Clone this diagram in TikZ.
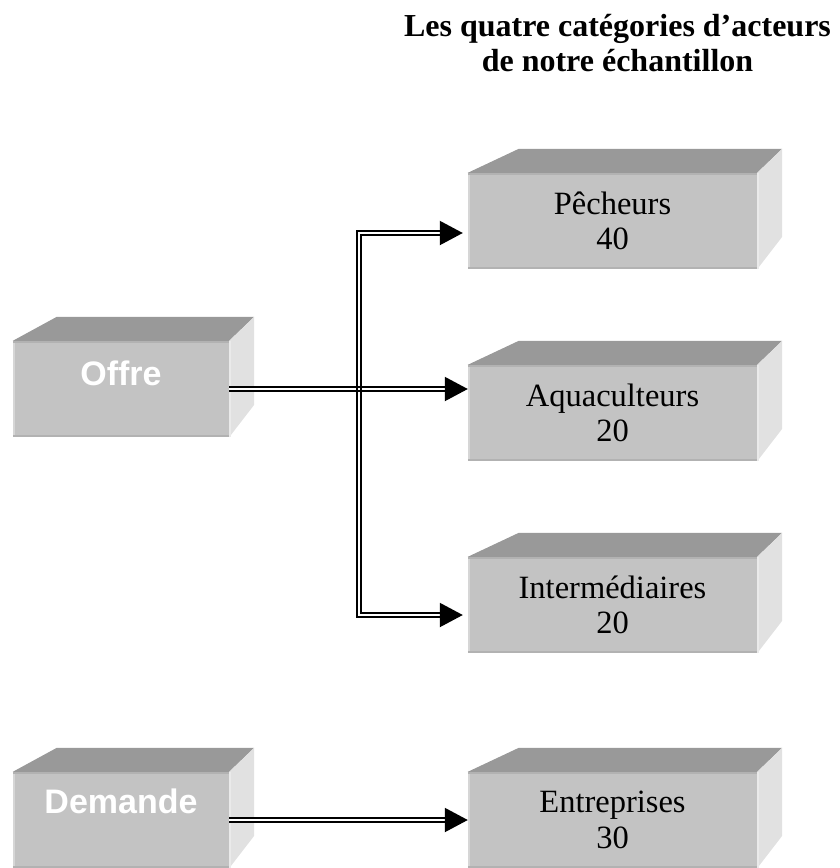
\documentclass[tikz,border=0pt]{standalone}
\usepackage{fontspec}
\setmainfont{Liberation Serif}
\setsansfont{Liberation Sans}
\usetikzlibrary{arrows.meta,calc}
\definecolor{frontc}{HTML}{C3C3C3}
\definecolor{topc}{HTML}{999999}
\definecolor{sidec}{HTML}{E1E1E1}
\definecolor{edgedark}{HTML}{B2B2B2}
\definecolor{edgelight}{HTML}{D6D6D6}
\definecolor{sidelight}{HTML}{EAEAEA}
\tikzset{
  frontface/.style={fill=frontc, inner sep=0pt, minimum height=96pt, align=center,
    font=\fontsize{32.5}{35.5}\selectfont},
  bigface/.style={frontface, minimum width=289pt},
  smallface/.style={frontface, minimum width=216pt},
  whitelabel/.style={anchor=base, text=white, inner sep=0pt,
    font=\sffamily\bfseries\fontsize{34}{38}\selectfont},
  dbl/.style={double=white, double distance=2.4pt, line width=2pt, line cap=butt},
  tipped/.style={-{Triangle[length=23pt,width=24pt]}},
  titlefont/.style={font=\bfseries\fontsize{32}{35}\selectfont, align=center},
}
\newcommand\cubefaces[2]{%
  \fill[topc] (#1.north west) -- ++(#2,-24) -- ($(#1.north east)+(25,-24)$) -- (#1.north east) -- cycle;
  \fill[sidec] (#1.north east) -- ++(25,-24) -- ++(0,88) -- (#1.south east) -- cycle;
  \draw[sidelight, line width=2pt] ([xshift=1pt]#1.north east) -- ([xshift=1pt]#1.south east);
  \draw[edgedark, line width=2.5pt] ([yshift=-1.25pt]#1.north west) -- ([yshift=-1.25pt]#1.north east);
  \draw[edgedark, line width=2pt] ([yshift=1pt]#1.south west) -- ([yshift=1pt]#1.south east);
  \draw[edgelight, line width=2pt] ([xshift=1pt,yshift=-2.5pt]#1.north west) -- ([xshift=1pt,yshift=2pt]#1.south west);
}
\begin{document}
\begin{tikzpicture}[x=1pt,y=-1pt]
\useasboundingbox (0,0) rectangle (839,868);

\node[titlefont] (title) at (617.5,43) {Les quatre catégories d’acteurs\\de notre échantillon};

% left boxes
\node[smallface] (of) at (121,389) {};
\cubefaces{of}{44}
\node[whitelabel] (oft) at (121,385) {Offre};
\node[smallface] (dm) at (121,820) {};
\cubefaces{dm}{44}
\node[whitelabel] (dmt) at (121,813) {Demande};

% right boxes
\node[bigface] (pe) at (612.5,221) {Pêcheurs\\40};
\cubefaces{pe}{51}
\node[bigface] (aq) at (612.5,413) {Aquaculteurs\\20};
\cubefaces{aq}{51}
\node[bigface] (in) at (612.5,605) {Intermédiaires\\20};
\cubefaces{in}{51}
\node[bigface] (en) at (612.5,820) {Entreprises\\30};
\cubefaces{en}{51}

% branch connector
\coordinate (jx) at (359,0);
\coordinate (bp) at ([yshift=-12pt]pe.west);
\coordinate (bi) at ([yshift=-10pt]in.west);
\draw[dbl, {Triangle[length=23pt,width=24pt]}-{Triangle[length=23pt,width=24pt]}, shorten <=5pt, shorten >=5pt]
  (bp) -- (bp -| jx) -- (bi -| jx) -- (bi);

% Offre -> Aquaculteurs
\draw[dbl, tipped] (of.east) -- (of.east -| aq.west);
% crossing: vertical lines visible through the horizontal gap
\draw[line width=2pt] ([xshift=-2.2pt,yshift=6pt]jx |- of.east) -- ([xshift=-2.2pt,yshift=-6pt]jx |- of.east);
\draw[line width=2pt] ([xshift=2.2pt,yshift=6pt]jx |- of.east) -- ([xshift=2.2pt,yshift=-6pt]jx |- of.east);

% Demande -> Entreprises
\draw[dbl, tipped] (dm.east) -- (dm.east -| en.west);
\end{tikzpicture}
\end{document}
